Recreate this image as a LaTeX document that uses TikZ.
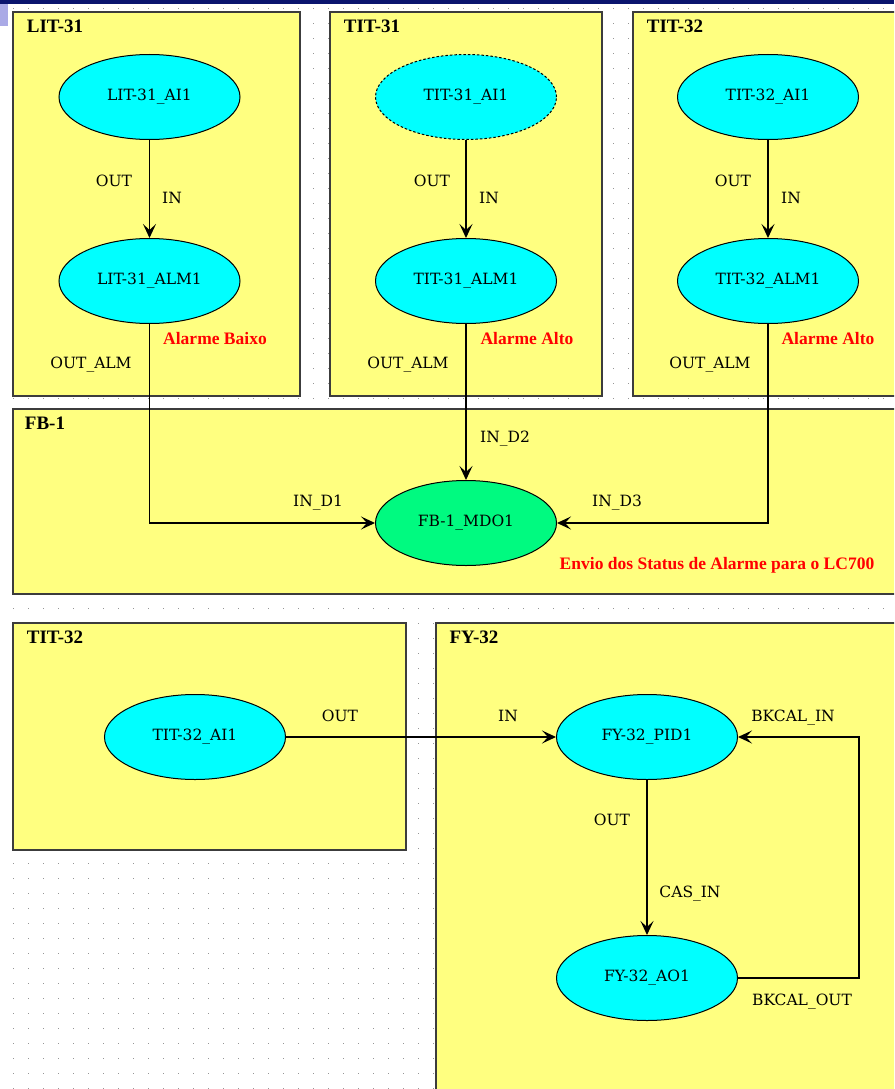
\documentclass[tikz,border=0pt]{standalone}
\usepackage{fontspec}
\setmainfont{Liberation Serif}
\newfontfamily\blockfont{DejaVu Serif}
\usepackage{xcolor}
\definecolor{fbyellow}{RGB}{255,255,128}
\definecolor{fbcyan}{RGB}{0,255,255}
\definecolor{fbgreen}{RGB}{0,250,128}
\definecolor{fbred}{RGB}{255,0,0}
\definecolor{fbframe}{RGB}{60,60,60}
\definecolor{fbnavy}{RGB}{10,20,110}
\definecolor{fblavender}{RGB}{170,170,230}
\definecolor{gridgray}{RGB}{150,150,150}
\usetikzlibrary{arrows.meta, shapes.geometric}

\tikzset{
  fbbox/.style={fill=fbyellow, draw=fbframe, line width=1.5pt},
  fbnode/.style={ellipse, draw=black, line width=1pt, fill=fbcyan, minimum width=181pt, minimum height=85pt, inner sep=0pt, font=\blockfont\fontsize{15.5}{17}\selectfont},
  portlbl/.style={font=\blockfont\fontsize{15.5}{17}\selectfont, inner sep=0pt},
  boxtitle/.style={font=\bfseries\fontsize{19}{21}\selectfont, inner sep=0pt},
  alarmlbl/.style={font=\bfseries\fontsize{17.5}{19}\selectfont, text=fbred, inner sep=0pt},
  link/.style={draw=black, line width=1.2pt, -{Stealth[length=14pt, width=13pt, inset=6pt]}}
}

\begin{document}
\begin{tikzpicture}[x=1pt, y=-1pt]
  \useasboundingbox (0,0) rectangle (894,1089);
  \clip (0,0) rectangle (894,1089);
  \fill[white] (0,0) rectangle (894,1089);
  % grid of dots
  \foreach \gx in {13,28,...,893}
    \foreach \gy in {8,23,...,1088}
      \fill[gridgray] (\gx,\gy) rectangle ++(1.2,1.2);
  % top bar
  \fill[fbnavy] (0,0) rectangle (894,4);
  \fill[fblavender] (0,4) rectangle (8,26);

  % --- Boxes ---
  \draw[fbbox] (13,12) rectangle (300,396);
  \draw[fbbox] (330,12) rectangle (602,396);
  \draw[fbbox] (633,12) rectangle (900,396);
  \draw[fbbox] (13,409) rectangle (900,594);
  \draw[fbbox] (13,623) rectangle (406,850);
  \draw[fbbox] (436,623) rectangle (900,1095);

  \node[boxtitle] (t-lit31) at (55,26) {LIT-31};
  \node[boxtitle] (t-tit31) at (372,26) {TIT-31};
  \node[boxtitle] (t-tit32) at (675,26) {TIT-32};
  \node[boxtitle] (t-fb1) at (45,423) {FB-1};
  \node[boxtitle] (t-tit32b) at (55,637) {TIT-32};
  \node[boxtitle] (t-fy32) at (474,637) {FY-32};

  % --- Blocks ---
  \node[fbnode] (lit31ai) at (149.5,97) {LIT-31\_AI1};
  \node[fbnode] (lit31alm) at (149.5,281) {LIT-31\_ALM1};
  \node[fbnode, dash pattern=on 2.5pt off 2pt] (tit31ai) at (466,97) {TIT-31\_AI1};
  \node[fbnode] (tit31alm) at (466,281) {TIT-31\_ALM1};
  \node[fbnode] (tit32ai) at (768,97) {TIT-32\_AI1};
  \node[fbnode] (tit32alm) at (768,281) {TIT-32\_ALM1};
  \node[fbnode, fill=fbgreen] (fbmdo) at (466,523) {FB-1\_MDO1};
  \node[fbnode] (tit32aib) at (195,737) {TIT-32\_AI1};
  \node[fbnode] (fypid) at (647,737) {FY-32\_PID1};
  \node[fbnode] (fyao) at (647,978) {FY-32\_AO1};
  \coordinate (bkcorner) at (859,978);

  % --- Links ---
  \draw[link] (lit31ai) -- (lit31alm);
  \draw[link] (tit31ai) -- (tit31alm);
  \draw[link] (tit32ai) -- (tit32alm);
  \draw[link] (lit31alm.south) |- (fbmdo.west);
  \draw[link] (tit31alm.south) -- (fbmdo.north);
  \draw[link] (tit32alm.south) |- (fbmdo.east);
  \draw[link] (tit32aib.east) -- (fypid.west);
  \draw[link] (fypid) -- (fyao);
  \draw[link] (fyao.east) -- (bkcorner) |- (fypid.east);

  % --- Port labels ---
  \node[portlbl] (p1) at (114,181) {OUT};
  \node[portlbl] (p2) at (172,198) {IN};
  \node[portlbl] (p3) at (91,365) {OUT\_ALM};
  \node[portlbl] (p4) at (432,181) {OUT};
  \node[portlbl] (p5) at (489,198) {IN};
  \node[portlbl] (p6) at (408,365) {OUT\_ALM};
  \node[portlbl] (p7) at (733,181) {OUT};
  \node[portlbl] (p8) at (791,198) {IN};
  \node[portlbl] (p9) at (710,365) {OUT\_ALM};
  \node[portlbl] (p10) at (318,503) {IN\_D1};
  \node[portlbl] (p11) at (505,439) {IN\_D2};
  \node[portlbl] (p12) at (617,503) {IN\_D3};
  \node[portlbl] (p13) at (340,716) {OUT};
  \node[portlbl] (p14) at (508,716) {IN};
  \node[portlbl] (p15) at (793,718) {BKCAL\_IN};
  \node[portlbl] (p16) at (612,820) {OUT};
  \node[portlbl] (p17) at (690,894) {CAS\_IN};
  \node[portlbl] (p18) at (802,1002) {BKCAL\_OUT};

  % --- Alarm notes ---
  \node[alarmlbl] (a1) at (215,339) {Alarme Baixo};
  \node[alarmlbl] (a2) at (527,339) {Alarme Alto};
  \node[alarmlbl] (a3) at (828,339) {Alarme Alto};
  \node[alarmlbl] (a4) at (717,565) {Envio dos Status de Alarme para o LC700};
\end{tikzpicture}
\end{document}
